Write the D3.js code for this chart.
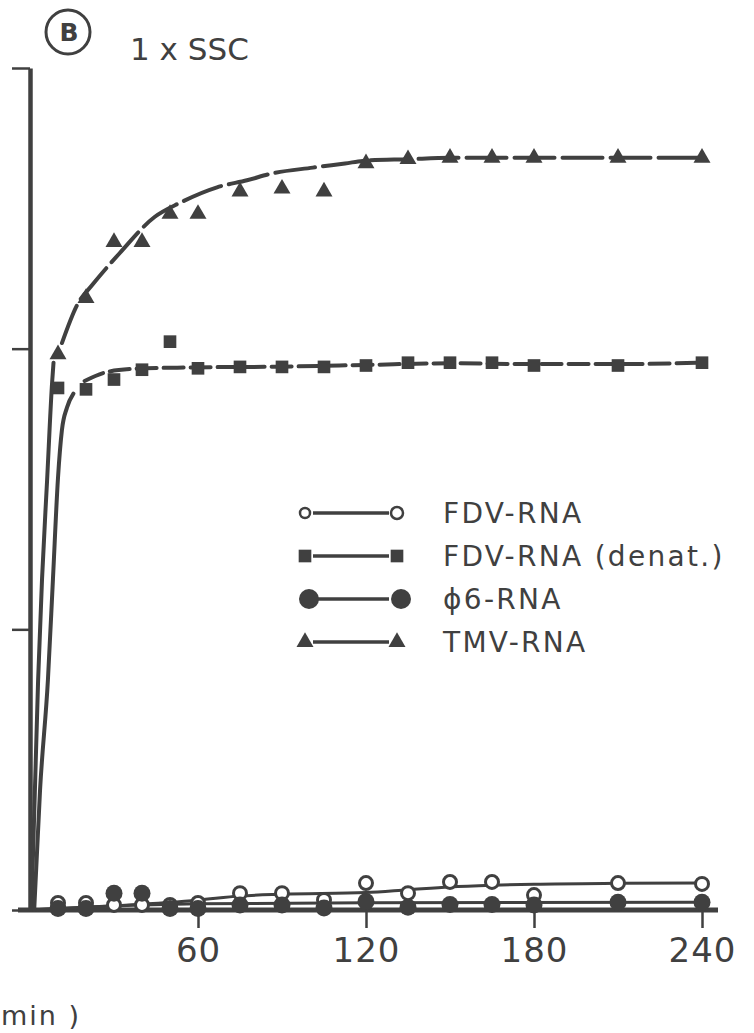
<!DOCTYPE html>
<html>
<head>
<meta charset="utf-8">
<script src="https://cdn.jsdelivr.net/npm/d3@7"></script>
<style>
  body { margin: 0; background: #fff; }
  svg { display: block; }
  text { font-family: "DejaVu Sans", sans-serif; fill: #404040; }
</style>
</head>
<body>
<svg id="chart" width="754" height="1033"></svg>
<script>
// Sampling times (min)
const timesMin = [10, 20, 30, 40, 50, 60, 75, 90, 105, 120, 135, 150, 165, 180, 210, 240];

// Measured values per series
const tmvRna   = [19.8, 21.8, 23.8, 23.8, 24.8, 24.8, 25.6, 25.7, 25.6, 26.6, 26.75, 26.8, 26.8, 26.8, 26.8, 26.8];
const fdvDenat = [18.6, 18.55, 18.9, 19.25, 20.25, 19.3, 19.35, 19.35, 19.35, 19.4, 19.5, 19.5, 19.5, 19.4, 19.4, 19.5];
const fdvRna   = [0.25, 0.25, 0.18, 0.18, 0.18, 0.25, 0.6, 0.6, 0.36, 0.96, 0.6, 1.0, 1.0, 0.53, 0.96, 0.93];
const phi6Rna  = [0.05, 0.05, 0.6, 0.6, 0.05, 0.05, 0.18, 0.18, 0.07, 0.3, 0.1, 0.2, 0.2, 0.18, 0.28, 0.28];

// Hand-drawn trend curves (time, value)
const tmvRiseT     = [0.5, 2.9, 4.3, 6.1, 7.9, 8.4];
const tmvRiseV     = [0, 8.2, 11.8, 15.3, 18.8, 19.5];
const tmvApproachT = [11.4, 16.8, 22.5, 32, 44.6, 53.6, 66.8, 77.5, 86.8, 101, 112.5, 120, 135, 150, 165, 180, 210, 240];
const tmvApproachV = [20.2, 21.55, 22.3, 23.4, 24.7, 25.2, 25.75, 26.0, 26.25, 26.45, 26.6, 26.7, 26.75, 26.8, 26.8, 26.8, 26.8, 26.8];
const denatRiseT   = [1.5, 3.6, 6.4, 8.2, 10, 11.4, 13.2, 15.5];
const denatRiseV   = [0, 4.3, 8.2, 11.8, 15.4, 17.1, 17.9, 18.4];
const denatFlatT   = [19.5, 26.8, 36.8, 56, 90, 120, 150, 180, 210, 240];
const denatFlatV   = [18.85, 19.15, 19.28, 19.33, 19.36, 19.42, 19.48, 19.45, 19.45, 19.5];
const fdvFitT      = [0, 30, 60, 75, 90, 120, 135, 150, 165, 180, 210, 240];
const fdvFitV      = [0, 0.15, 0.35, 0.5, 0.56, 0.62, 0.72, 0.82, 0.88, 0.92, 0.95, 0.96];
const phi6FitT     = [0, 40, 60, 120, 240];
const phi6FitV     = [0, 0.18, 0.22, 0.26, 0.28];

// Axis ticks
const xTicks = [60, 120, 180, 240];
const yTicks = [0, 10, 20, 30];

// Legend
const legendLabels = ["FDV-RNA", "FDV-RNA (denat.)", "\u03D56-RNA", "TMV-RNA"];
const legendShapes = ["open", "square", "filled", "triangle"];

const ink = "#404040";
const svg = d3.select("#chart");

const x = d3.scaleLinear().domain([0, 240]).range([30, 702]);
const y = d3.scaleLinear().domain([0, 30]).range([910, 68]);

// Y axis: ticks only, no labels
const yAxis = svg.append("g")
  .attr("transform", `translate(${x(0)},0)`)
  .call(d3.axisLeft(y).tickValues(yTicks).tickSize(18).tickSizeOuter(0).tickFormat(() => ""));
yAxis.select(".domain").attr("stroke", ink).attr("stroke-width", 4.5);
yAxis.selectAll(".tick line").attr("stroke", ink).attr("stroke-width", 2.5);

// X axis
const xAxis = svg.append("g")
  .attr("transform", `translate(0,${y(0)})`)
  .call(d3.axisBottom(x).tickValues(xTicks).tickSize(18).tickSizeOuter(0).tickPadding(10));
xAxis.select(".domain").remove();
xAxis.selectAll(".tick line").attr("stroke", ink).attr("stroke-width", 2.5);
xAxis.selectAll(".tick text")
  .style("font-size", "34px").style("letter-spacing", "1px")
  .attr("fill", ink);
svg.append("line")
  .attr("x1", x.range()[0] - 12).attr("x2", x.range()[1] + 16)
  .attr("y1", y(0)).attr("y2", y(0))
  .attr("stroke", ink).attr("stroke-width", 5);

// Trend curves
const line = d3.line().x(d => x(d[0])).y(d => y(d[1])).curve(d3.curveMonotoneX);
const pairs = (ts, vs) => ts.map((t, i) => [t, vs[i]]);

function drawPath(ts, vs, width, dash) {
  const p = svg.append("path")
    .datum(pairs(ts, vs))
    .attr("d", line)
    .attr("fill", "none")
    .attr("stroke", ink)
    .attr("stroke-width", width)
    .attr("stroke-linecap", "round");
  if (dash) p.attr("stroke-dasharray", dash);
}
drawPath(fdvFitT, fdvFitV, 3);
drawPath(phi6FitT, phi6FitV, 3);
drawPath(tmvRiseT, tmvRiseV, 4);
drawPath(tmvApproachT, tmvApproachV, 4, "40 8");
drawPath(denatRiseT, denatRiseV, 4);
drawPath(denatFlatT, denatFlatV, 4, "20 7");

// Markers
const triangle = d3.symbol().type(d3.symbolTriangle).size(125);
const square = d3.symbol().type(d3.symbolSquare).size(160);

function drawMarkers(values, shape) {
  const pts = pairs(timesMin, values);
  if (shape === "open") {
    svg.append("g").selectAll("circle").data(pts).join("circle")
      .attr("cx", d => x(d[0])).attr("cy", d => y(d[1])).attr("r", 6.5)
      .attr("fill", "#fff").attr("stroke", ink).attr("stroke-width", 3);
  } else if (shape === "filled") {
    svg.append("g").selectAll("circle").data(pts).join("circle")
      .attr("cx", d => x(d[0])).attr("cy", d => y(d[1])).attr("r", 8.5)
      .attr("fill", ink);
  } else {
    const sym = shape === "square" ? square : triangle;
    svg.append("g").selectAll("path").data(pts).join("path")
      .attr("d", sym)
      .attr("transform", d => `translate(${x(d[0])},${y(d[1])})`)
      .attr("fill", ink);
  }
}
drawMarkers(fdvRna, "open");
drawMarkers(phi6Rna, "filled");
drawMarkers(fdvDenat, "square");
drawMarkers(tmvRna, "triangle");

// Legend
const legend = svg.append("g").attr("transform", "translate(305,513)");
legendLabels.forEach((label, i) => {
  const g = legend.append("g").attr("transform", `translate(0,${i * 43})`);
  const shape = legendShapes[i];
  g.append("line").attr("x1", 8).attr("x2", 84).attr("y1", 0).attr("y2", 0)
    .attr("stroke", ink).attr("stroke-width", 3.5);
  [0, 92].forEach(cx => {
    if (shape === "open") {
      g.append("circle").attr("cx", cx).attr("cy", 0).attr("r", cx ? 6 : 5)
        .attr("fill", "#fff").attr("stroke", ink).attr("stroke-width", 2.5);
    } else if (shape === "filled") {
      g.append("circle").attr("cx", cx + 4).attr("cy", 0).attr("r", 10).attr("fill", ink);
    } else {
      g.append("path").attr("d", shape === "square" ? square : triangle)
        .attr("transform", `translate(${cx},0)`).attr("fill", ink);
    }
  });
  g.append("text").attr("x", 138).attr("y", 10)
    .style("font-size", "28px").style("letter-spacing", "2.3px")
    .text(label);
});

// Panel label and condition
svg.append("circle").attr("cx", 68).attr("cy", 32).attr("r", 22)
  .attr("fill", "none").attr("stroke", ink).attr("stroke-width", 3);
svg.append("text").attr("x", 69).attr("y", 41).attr("text-anchor", "middle")
  .style("font-size", "25px").style("font-weight", "bold").text("B");
svg.append("text").attr("x", 130).attr("y", 60)
  .style("font-size", "31px").text("1 x SSC");

// Axis title fragment
svg.append("text").attr("x", 1).attr("y", 1025)
  .style("font-size", "27px").style("letter-spacing", "2px").text("min )");
</script>
</body>
</html>
